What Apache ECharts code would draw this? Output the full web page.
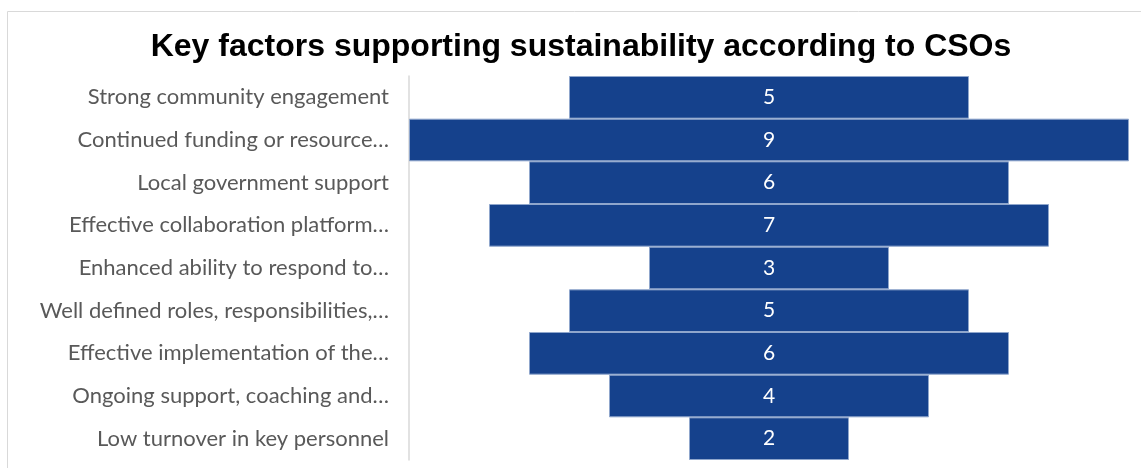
<!DOCTYPE html>
<html>
<head>
<meta charset="utf-8">
<script src="https://cdn.jsdelivr.net/npm/echarts@6/dist/echarts.min.js"></script>
<style>
  html, body { margin: 0; padding: 0; background: #fff; }
  #chart { width: 1141px; height: 468px; }
</style>
</head>
<body>
<div id="chart"></div>
<script>
const factors = [
  'Strong community engagement',
  'Continued funding or resource…',
  'Local government support',
  'Effective collaboration platform…',
  'Enhanced ability to respond to…',
  'Well defined roles, responsibilities,…',
  'Effective implementation of the…',
  'Ongoing support, coaching and…',
  'Low turnover in key personnel'
];
const counts = [5, 9, 6, 7, 3, 5, 6, 4, 2];
const maxCount = 9;

// invisible spacer that centres each bar
const offsets = counts.map(v => (maxCount - v) / 2);

const chart = echarts.init(document.getElementById('chart'));

chart.setOption({
  animation: false,
  title: {
    text: 'Key factors supporting sustainability according to CSOs',
    left: 576,
    textAlign: 'center',
    top: 26,
    textStyle: {
      fontFamily: 'Liberation Sans, Arial, sans-serif',
      fontWeight: 'bold',
      fontSize: 32,
      color: '#000'
    }
  },
  graphic: [
    {
      type: 'rect',
      shape: { x: 7.5, y: 11.5, width: 1160, height: 500 },
      style: { fill: 'none', stroke: '#d9d9d9', lineWidth: 1 },
      silent: true
    }
  ],
  grid: {
    left: 409,
    right: 12,
    top: 76,
    bottom: 8
  },
  xAxis: {
    type: 'value',
    min: 0,
    max: maxCount,
    show: false
  },
  yAxis: {
    type: 'category',
    inverse: true,
    data: factors,
    axisLine: { show: true, lineStyle: { color: '#d9d9d9', width: 1.5 } },
    axisTick: { show: false },
    axisLabel: {
      margin: 20,
      color: '#595959',
      fontSize: 22,
      fontFamily: 'Lato, "Open Sans", sans-serif'
    }
  },
  series: [
    {
      type: 'bar',
      stack: 'total',
      data: offsets,
      itemStyle: { color: 'transparent' },
      barCategoryGap: 0,
      silent: true
    },
    {
      type: 'bar',
      stack: 'total',
      data: counts,
      barCategoryGap: 0,
      itemStyle: {
        color: '#15418c',
        borderColor: '#8fa6cc',
        borderWidth: 1
      },
      label: {
        show: true,
        position: 'inside',
        color: '#fff',
        fontSize: 21,
        fontFamily: 'Lato, "Open Sans", sans-serif'
      }
    }
  ]
});
</script>
</body>
</html>
